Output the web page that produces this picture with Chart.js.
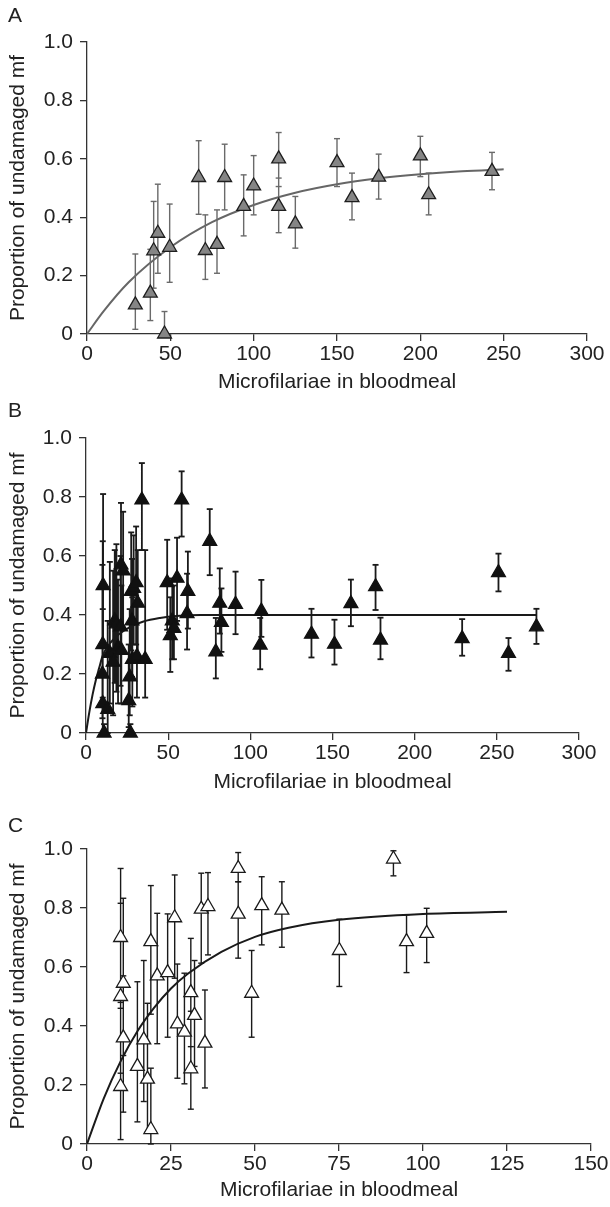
<!DOCTYPE html>
<html lang="en">
<head>
<meta charset="utf-8" />
<style>
  * { margin: 0; padding: 0; }
  body { background: #fff; width: 610px; height: 1207px; position: relative; font-family: "Liberation Sans", Arial, sans-serif; }
  .panel { position: absolute; left: 0; width: 610px; }
  .letter { position: absolute; left: 8px; font-size: 21px; color: #222; }
</style>
</head>
<body>
<div class="panel" style="top:0;height:400px"><canvas id="chartA" width="610" height="400"></canvas></div>
<div class="panel" style="top:400px;height:400px"><canvas id="chartB" width="610" height="400"></canvas></div>
<div class="panel" style="top:800px;height:407px"><canvas id="chartC" width="610" height="407"></canvas></div>
<div class="letter" style="top:3px">A</div>
<div class="letter" style="top:398px">B</div>
<div class="letter" style="top:813px">C</div>

<script src="https://cdn.jsdelivr.net/npm/chart.js/dist/chart.umd.min.js"></script>
<script>
// ---- panel A ----
const aX  = [29, 38, 40, 42.5, 46.5, 49.6, 67, 71, 78, 82.6, 94, 100, 115, 115, 125, 150, 159, 175, 200, 205, 243];
const aY  = [0.10, 0.14, 0.285, 0.345, 0, 0.297, 0.536, 0.286, 0.307, 0.536, 0.437, 0.507, 0.60, 0.437, 0.377, 0.587, 0.467, 0.537, 0.61, 0.477, 0.557];
const aLo = [0.016, 0.046, 0.157, 0.208, 0, 0.177, 0.41, 0.187, 0.208, 0.425, 0.336, 0.408, 0.505, 0.347, 0.294, 0.505, 0.391, 0.462, 0.539, 0.408, 0.494];
const aHi = [0.274, 0.29, 0.454, 0.513, 0.077, 0.445, 0.662, 0.408, 0.425, 0.65, 0.545, 0.611, 0.69, 0.534, 0.471, 0.669, 0.551, 0.616, 0.677, 0.551, 0.622];
const aCurveX = [0, 10, 25, 50, 75, 100, 125, 150, 175, 200, 225, 250];
const aCurveY = [0, 0.078, 0.177, 0.297, 0.383, 0.442, 0.484, 0.513, 0.533, 0.547, 0.557, 0.564];

// ---- panel B ----
const bX  = [10.4, 10.2, 10.0, 10.2, 11.0, 13.2, 14.5, 16.5, 17.5, 18.5, 19.5, 21.3, 22.6, 21.0, 21.5,
             26.0, 26.6, 27.0, 27.5, 28.0, 28.2, 29.0, 30.5, 31.5, 31.0, 34.0, 36.0,
             49.4, 51.3, 52.5, 53.5, 55.4, 58.2, 61.5, 62.0, 75.3, 79.0, 81.4, 82.4, 91.0,
             106.7, 106.0, 137.2, 151.2, 161.2, 176.2, 179.2, 228.9, 251.0, 257.1, 274.1];
const bY  = [0.50, 0.30, 0.20, 0.10, 0, 0.08, 0.27, 0.24, 0.38, 0.37, 0.29, 0.57, 0.55, 0.36, 0.28,
             0.11, 0.19, 0, 0.48, 0.38, 0.25, 0.49, 0.51, 0.44, 0.26, 0.79, 0.25,
             0.51, 0.33, 0.38, 0.355, 0.525, 0.79, 0.405, 0.48, 0.65, 0.275, 0.44, 0.375, 0.436,
             0.413, 0.298, 0.335, 0.301, 0.439, 0.496, 0.315, 0.32, 0.544, 0.27, 0.36];
const bLo = [0.30, 0.12, 0.05, 0, 0, 0, 0.10, 0.06, 0.17, 0.14, 0.10, 0.36, 0.35, 0.16, 0.10,
             0.02, 0.06, 0, 0.28, 0.19, 0.09, 0.30, 0.30, 0.24, 0.12, 0.62, 0.12,
             0.35, 0.207, 0.25, 0.25, 0.38, 0.666, 0.283, 0.354, 0.535, 0.185, 0.337, 0.275, 0.335,
             0.326, 0.216, 0.256, 0.232, 0.362, 0.417, 0.25, 0.262, 0.48, 0.211, 0.302];
const bHi = [0.81, 0.65, 0.57, 0.42, 0.03, 0.38, 0.58, 0.55, 0.62, 0.64, 0.52, 0.78, 0.75, 0.60, 0.50,
             0.30, 0.42, 0.03, 0.68, 0.59, 0.46, 0.67, 0.70, 0.62, 0.45, 0.915, 0.62,
             0.655, 0.46, 0.524, 0.50, 0.662, 0.887, 0.54, 0.615, 0.759, 0.39, 0.558, 0.49, 0.547,
             0.519, 0.39, 0.421, 0.384, 0.52, 0.57, 0.391, 0.386, 0.608, 0.322, 0.421];
const bCurveX = [0, 2, 4, 6, 8, 10, 14, 20, 27, 35, 45, 55, 70, 100, 150, 200, 274];
const bCurveY = [0, 0.07, 0.13, 0.18, 0.22, 0.26, 0.30, 0.335, 0.36, 0.378, 0.39, 0.397, 0.40, 0.40, 0.40, 0.40, 0.40];

// ---- panel C ----
const cX  = [10.0, 10.8, 10.0, 10.8, 10.0, 15.0, 16.9, 18.0, 19.0, 19.0, 20.9, 24.0, 26.1, 26.9, 29.0,
             30.9, 32.0, 30.9, 34.0, 35.1, 36.0, 45.0, 45.0, 49.0, 52.0, 58.0, 75.1, 91.2, 95.1, 101.1];
const cY  = [0.70, 0.545, 0.50, 0.36, 0.195, 0.263, 0.353, 0.22, 0.049, 0.686, 0.57, 0.581, 0.767, 0.407, 0.379,
             0.513, 0.436, 0.255, 0.796, 0.342, 0.805, 0.934, 0.779, 0.511, 0.808, 0.793, 0.656, 0.966, 0.686, 0.714];
const cLo = [0.46, 0.30, 0.24, 0.108, 0.015, 0.075, 0.144, 0.04, 0, 0.44, 0.34, 0.362, 0.562, 0.223, 0.204,
             0.33, 0.263, 0.118, 0.613, 0.19, 0.641, 0.889, 0.63, 0.362, 0.675, 0.667, 0.534, 0.909, 0.581, 0.615];
const cHi = [0.934, 0.833, 0.816, 0.57, 0.48, 0.55, 0.622, 0.477, 0.257, 0.876, 0.782, 0.78, 0.912, 0.61, 0.579,
             0.697, 0.622, 0.45, 0.918, 0.522, 0.92, 0.988, 0.889, 0.656, 0.906, 0.889, 0.762, 0.994, 0.777, 0.799];
const cCurveX = [0, 5, 10, 15, 20, 25, 30, 40, 50, 60, 75, 100, 125];
const cCurveY = [0, 0.155, 0.28, 0.382, 0.462, 0.527, 0.577, 0.651, 0.702, 0.733, 0.760, 0.780, 0.787];

const yTicks = [0, 0.2, 0.4, 0.6, 0.8, 1.0];

function points(xs, ys) {
  return xs.map((x, i) => ({ x: x, y: ys[i] }));
}

// each bar is lo -> hi, then a null point to break the line
function errorBars(xs, lo, hi) {
  const out = [];
  xs.forEach((x, i) => {
    out.push({ x: x, y: lo[i] }, { x: x, y: hi[i] }, { x: x, y: null });
  });
  return out;
}

const font = { family: '"Liberation Sans", Arial, sans-serif', size: 21 };
const axisColor = '#333';

function makeChart(id, p) {
  return new Chart(document.getElementById(id), {
    type: 'line',
    data: {
      datasets: [
        {
          label: 'data',
          data: points(p.x, p.y),
          showLine: false,
          pointStyle: 'triangle',
          pointRadius: 8,
          pointBackgroundColor: p.fill,
          pointBorderColor: p.edge,
          pointBorderWidth: 1.3,
          clip: false,
          order: 0
        },
        {
          label: 'error',
          data: errorBars(p.x, p.lo, p.hi),
          spanGaps: false,
          borderColor: p.errColor,
          borderWidth: p.errWidth,
          pointStyle: 'line',
          pointRadius: 3,
          pointBorderColor: p.errColor,
          pointBorderWidth: p.errWidth,
          clip: false,
          order: 1
        },
        {
          label: 'fit',
          data: points(p.cx, p.cy),
          borderColor: p.curveColor,
          borderWidth: 2,
          pointRadius: 0,
          cubicInterpolationMode: 'monotone',
          order: 2
        }
      ]
    },
    options: {
      responsive: false,
      animation: false,
      layout: { padding: { top: p.padTop, right: p.padRight, left: 0, bottom: 0 } },
      plugins: { legend: { display: false }, tooltip: { enabled: false } },
      scales: {
        x: {
          type: 'linear',
          min: 0,
          max: p.xMax,
          afterFit: (s) => { s.height = p.xHeight; },
          ticks: { stepSize: p.xStep, color: '#222', font: font, padding: 1, maxRotation: 0 },
          grid: { drawOnChartArea: false, drawTicks: true, tickLength: 7, color: axisColor, lineWidth: 1.3 },
          border: { display: true, color: axisColor, width: 1.3 },
          title: { display: true, text: 'Microfilariae in bloodmeal', color: '#222', font: font, padding: { top: 0, bottom: p.xTitlePad } }
        },
        y: {
          min: 0,
          max: 1,
          afterFit: (s) => { s.width = p.yWidth; },
          afterBuildTicks: (s) => { s.ticks = yTicks.map(v => ({ value: v })); },
          ticks: {
            color: '#222',
            font: font,
            padding: 7,
            callback: (v) => (v === 0 ? '0' : v.toFixed(1))
          },
          grid: { drawOnChartArea: false, drawTicks: true, tickLength: 7, color: axisColor, lineWidth: 1.3 },
          border: { display: true, color: axisColor, width: 1.3 },
          title: { display: true, text: 'Proportion of undamaged mf', color: '#222', font: font, padding: { top: 6, bottom: 0 } }
        }
      }
    }
  });
}

makeChart('chartA', {
  x: aX, y: aY, lo: aLo, hi: aHi, cx: aCurveX, cy: aCurveY,
  fill: '#858585', edge: '#1e1e1e', errColor: '#6a6a6a', errWidth: 1.4, curveColor: '#666',
  xMax: 300, xStep: 50, padTop: 42, padRight: 23, xHeight: 66, yWidth: 87, xTitlePad: 5
});

makeChart('chartB', {
  x: bX, y: bY, lo: bLo, hi: bHi, cx: bCurveX, cy: bCurveY,
  fill: '#111', edge: '#111', errColor: '#1a1a1a', errWidth: 1.8, curveColor: '#1a1a1a',
  xMax: 300, xStep: 50, padTop: 38, padRight: 31, xHeight: 67, yWidth: 86, xTitlePad: 5
});

makeChart('chartC', {
  x: cX, y: cY, lo: cLo, hi: cHi, cx: cCurveX, cy: cCurveY,
  fill: '#fff', edge: '#1a1a1a', errColor: '#1a1a1a', errWidth: 1.4, curveColor: '#1a1a1a',
  xMax: 150, xStep: 25, padTop: 49, padRight: 19, xHeight: 63, yWidth: 87, xTitlePad: 4
});
</script>
</body>
</html>
